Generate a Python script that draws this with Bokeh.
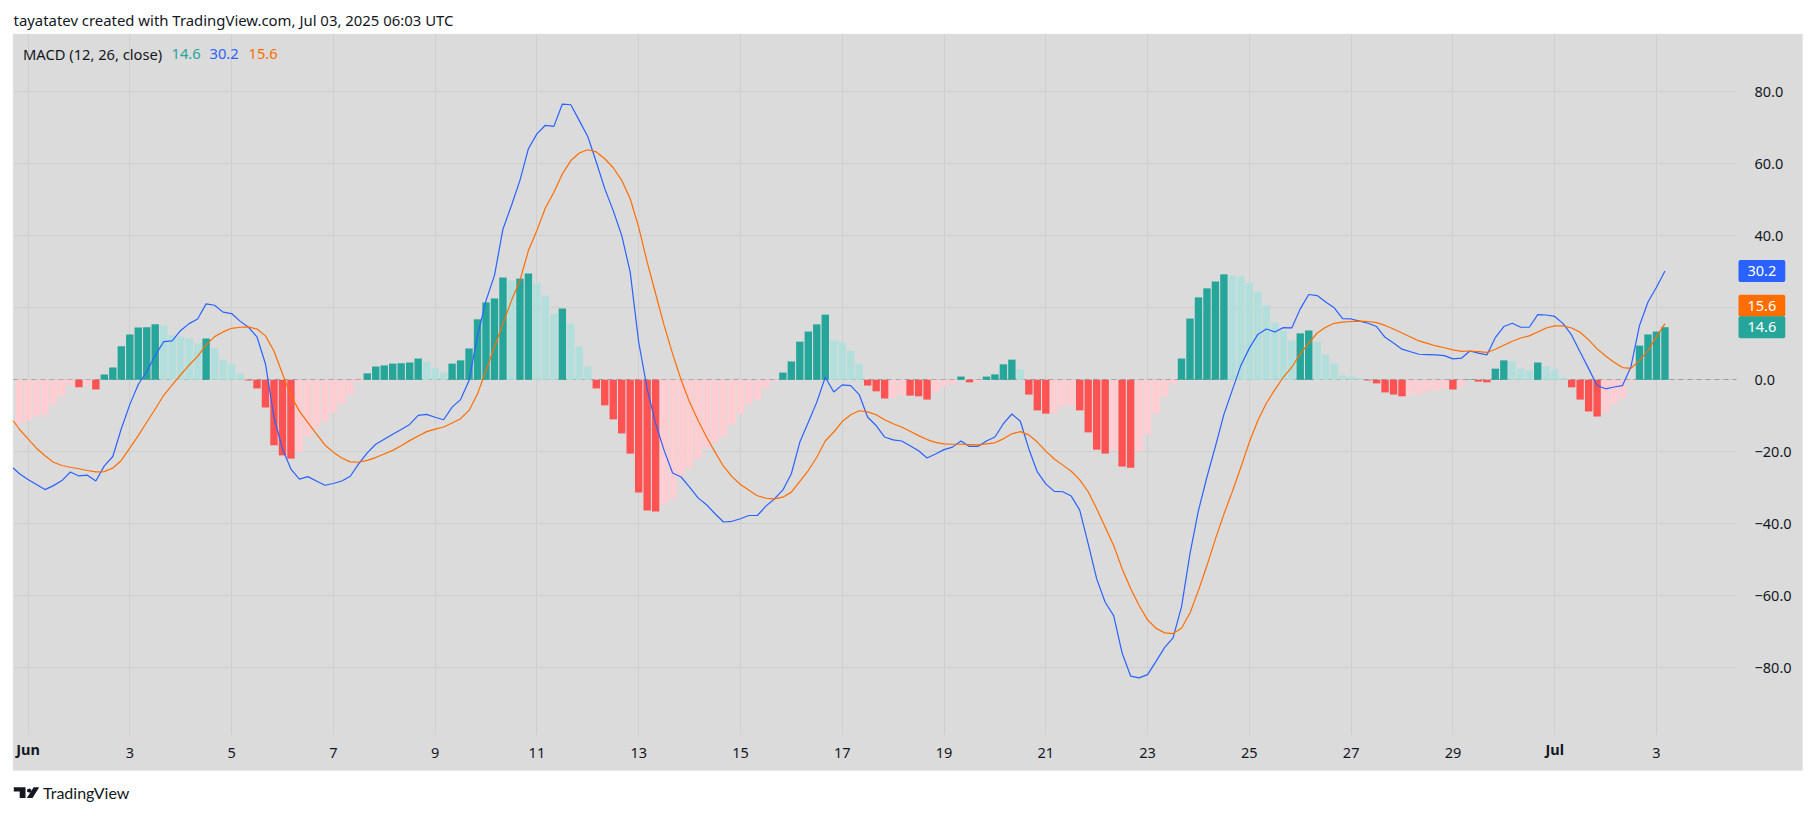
from bokeh.plotting import figure
from bokeh.models import (Label, Range1d, FixedTicker, LinearAxis, Grid, PolyAnnotation, BoxAnnotation, ColumnDataSource)
from bokeh.embed import file_html
from bokeh.resources import INLINE

# bar index: 4-hour bars counted from Jun 1 00:00; lines start one bar before the histogram
first_line_bar = -2
first_hist_bar = -1

macd_line = [
 -24.5,-26.1,-27.7,-29.1,-30.5,-29.4,-28,-25.6,-26.7,-26.5,
 -28.1,-23.9,-21.3,-13.6,-6.9,-1.3,2.3,6.8,10.6,10.8,
 13.7,15.6,16.9,21.1,20.7,18.8,18.4,16.3,14.6,11.9,
 4.4,-10.4,-19.2,-24.8,-27.6,-26.9,-28.1,-29.3,-28.8,-28.1,
 -26.8,-23.3,-20.3,-17.9,-16.5,-15.1,-13.8,-12.4,-9.9,-9.6,
 -10.4,-11.1,-7.6,-5.5,-0.2,12.3,22,29,41.9,48.4,
 55.4,64.2,68.3,70.7,70.4,76.6,76.4,72,67.6,60.5,
 53.1,47,40.1,29.9,10.5,-2.5,-12.2,-19.6,-25.9,-27,
 -29.8,-32.8,-34.7,-37.2,-39.5,-39.3,-38.6,-37.7,-37.7,-35.1,
 -33.1,-30.6,-26.1,-17.3,-11.8,-6.2,0.7,-3.4,-1.4,-1.6,
 -4.1,-10.4,-12.7,-15.9,-16.7,-17,-18.3,-19.7,-21.7,-20.6,
 -19.4,-18.7,-17,-18.5,-18.5,-17,-15.9,-12.2,-9.5,-11.5,
 -19.2,-25.6,-28.9,-31,-31.1,-32.3,-36.2,-45.6,-55.3,-61.8,
 -65.5,-75.9,-82.3,-82.8,-81.9,-78.2,-74.4,-71.7,-63.1,-48.3,
 -36.3,-27,-18.5,-9.6,-2.8,4,8.8,12.6,14.1,13.3,
 14.5,14.4,19.7,23.7,23.4,21.6,20,17,16.9,16.3,
 15.7,14.8,11.8,10.2,8.5,7.8,7.1,7,6.9,6.7,
 5.8,6,8,7.4,6.9,11.7,14.8,15.7,14.6,14.6,
 18.1,18,17.6,15.6,12.4,7.7,3.1,-1.6,-2.5,-2,
 -1.6,3.7,15.1,21.6,25.7,30.2]

signal_line = [
 -11.3,-13.8,-16.4,-19,-21.1,-22.9,-23.8,-24.3,-24.7,-25.2,
 -25.6,-25.5,-24.5,-22.4,-19,-15.5,-11.8,-8.1,-4.3,-1.4,
 1.4,4.1,6.5,9.7,12,13.3,14.3,14.6,14.7,14.1,
 12.2,8,1.7,-4.4,-8.7,-11.9,-15,-18.1,-20.1,-21.7,
 -22.8,-22.9,-22.4,-21.6,-20.6,-19.6,-18.3,-16.9,-15.6,-14.4,
 -13.7,-13.1,-12,-10.8,-8.5,-3.9,2.6,9.1,15.6,22,
 27.6,35.9,41.5,47.7,52.1,57.2,60.9,63,63.9,63.3,
 61.4,58.9,55.4,50.3,42.4,32.7,23.9,15.1,7.2,0,
 -6.2,-11.3,-15.9,-20.1,-24,-26.9,-29.1,-30.7,-32.2,-32.9,
 -33.1,-32.6,-31.2,-28.2,-25.2,-21.5,-17,-14.5,-11.6,-9.7,
 -8.6,-8.9,-9.7,-11.1,-12.2,-13.1,-14.3,-15.5,-16.6,-17.4,
 -17.8,-17.9,-17.9,-18,-18.1,-17.8,-17.5,-16.4,-15,-14.4,
 -15.3,-17.3,-19.8,-22,-23.7,-25.4,-27.8,-31.1,-35.8,-40.9,
 -46,-52.5,-58,-62.7,-66.7,-69,-70.3,-70.5,-69,-64.8,
 -58.5,-51.6,-44.2,-37.3,-31,-24.3,-17.3,-11.3,-6.5,-2.8,
 0.7,3.5,7.2,10.2,13,14.6,15.7,16,16.2,16.3,
 16.2,15.9,15.1,14.1,13,11.9,10.8,10.1,9.4,8.9,
 8.3,7.9,8,7.8,7.6,8.5,9.6,10.7,11.6,12.2,
 13.3,14.4,15,15,14.4,13.2,11.1,8.6,6.6,4.9,
 3.4,3.2,5.4,8.1,12,15.6]

hist_values = [
 -12.2,-11.3,-10.2,-9.6,-6.8,-4.4,-1.6,-2.1,-1.6,-2.7,
 1.5,3.4,9.3,12.6,14.5,14.6,15.4,15.1,12.3,12,
 11.5,10.1,11.5,8.7,5.6,4.3,1.8,-0.2,-2.4,-7.7,
 -18.2,-21,-21.9,-20,-15.6,-13.2,-11.6,-9.1,-6.7,-4.1,
 -0.5,1.8,3.7,4,4.5,4.6,4.8,5.9,5.1,3.4,
 2,4.5,5.4,8.7,16.8,21.5,22.6,28.4,27.6,28.1,
 29.5,26.8,23.4,18.4,19.8,15.6,9.3,3.7,-2.4,-7.1,
 -11,-14.9,-20.5,-31.3,-36.3,-36.6,-34.6,-33.2,-27,-24.4,
 -21.9,-18.8,-17.4,-15.7,-12.4,-9.4,-6.9,-5.5,-2.3,-0.4,
 2,5.1,10.6,13.4,15.4,18.1,10.9,10.4,8.1,4.5,
 -1.6,-3.2,-5.2,-5,-4.1,-4.4,-4.6,-5.5,-3.5,-1.9,
 -1.1,0.9,-0.7,-0.6,0.9,1.5,4.3,5.6,2.9,-4.1,
 -8.5,-9.4,-9.3,-7.4,-7.2,-8.5,-14.6,-19.4,-20.5,-19.6,
 -24.1,-24.4,-19.9,-15.2,-9.4,-4.6,-1.3,5.9,17,22.9,
 25.4,27.3,29.3,29,28.7,26.8,24.5,20.6,15.9,13.7,
 10.9,12.9,13.7,10.6,7,4.5,1.2,0.9,0.4,-0.2,
 -1,-3.5,-4.1,-4.6,-4.1,-4,-3.2,-3,-2.4,-2.7,
 -1.9,0.1,-0.5,-0.7,3.1,5.4,5.1,3.1,2.6,4.8,
 3.7,2.9,0.6,-2.1,-5.5,-8.8,-10.2,-9.1,-6.9,-5.2,
 -0.4,9.5,12.6,13.4,14.6]

y_grid_ticks = [80, 60, 40, 20, 0, -20, -40, -60, -80]
y_ticks = [80, 60, 40, 0, -20, -40, -60, -80]   # the 20.0 label sits behind the price tags
y_tick_labels = ["80.0", "60.0", "40.0", "0.0", "\u221220.0", "\u221240.0", "\u221260.0", "\u221280.0"]
day_ticks = list(range(2, 30, 2)) + [32]
day_tick_labels = ["3","5","7","9","11","13","15","17","19","21","23","25","27","29","3"]
month_ticks = [0, 30]
month_tick_labels = ["Jun", "Jul"]

header_text = "tayatatev created with TradingView.com, Jul 03, 2025 06:03 UTC"
legend_name = "MACD (12, 26, close)"
macd_text, signal_text, hist_text = "30.2", "15.6", "14.6"

BG = "#dbdbdb"; GRID = "#cfcfcf"; INK = "#131722"
BLUE = "#2962ff"; ORANGE = "#ff6d00"; TEAL = "#26a69a"; LTEAL = "#b2dfdb"; RED = "#ff5252"; PINK = "#ffcdd2"
FONT = "Noto Sans"
PX_PER_DAY = 50.89
ZERO_Y, PX_PER_UNIT = 379.3, 3.6
LEFT, RIGHT, TOP, BOTTOM, DAY0_X = 12.6, 1802.0, 33.5, 770.0, 27.5
PLOT_RIGHT, PLOT_BOTTOM = 1736.0, 735.0
W, H = 1815, 814

def d_of(px): return (px - DAY0_X) / PX_PER_DAY
def v_of(py): return (ZERO_Y - py) / PX_PER_UNIT

line_x = [(first_line_bar + i) / 6 for i in range(len(macd_line))]
line_x[0] = d_of(LEFT)   # the lines run off the panel's left edge
hist_x = [(first_hist_bar + i) / 6 for i in range(len(hist_values))]
colors = []
for i, v in enumerate(hist_values):
    rising = i == 0 or v > hist_values[i - 1]
    colors.append((TEAL if rising else LTEAL) if v >= 0 else (PINK if rising else RED))

p = figure(width=W, height=H, output_backend="svg", toolbar_location=None,
           x_range=Range1d(d_of(0), d_of(W)), y_range=Range1d(v_of(H), v_of(0)),
           y_axis_location="right", min_border=0,
           background_fill_color="white", border_fill_color="white", outline_line_color=None)

p.add_layout(BoxAnnotation(left=d_of(LEFT), right=d_of(RIGHT), top=v_of(TOP), bottom=v_of(BOTTOM),
                           fill_color=BG, fill_alpha=1, line_color="#e4e4e4", line_width=1.5, level="image"))

# axes inside the panel
xa = p.xaxis[0]
xa.fixed_location = v_of(PLOT_BOTTOM)
xa.ticker = FixedTicker(ticks=day_ticks)
xa.major_label_overrides = dict(zip(day_ticks, day_tick_labels))
ya = p.yaxis[0]
ya.fixed_location = d_of(PLOT_RIGHT)
ya.ticker = FixedTicker(ticks=y_ticks)
ya.major_label_overrides = dict(zip(y_ticks, y_tick_labels))
xb = LinearAxis(ticker=FixedTicker(ticks=month_ticks), major_label_overrides=dict(zip(month_ticks, month_tick_labels)),
                fixed_location=v_of(PLOT_BOTTOM))
p.add_layout(xb, "below")
for ax in (xa, ya, xb):
    ax.axis_line_color = None
    ax.major_tick_line_color = None
    ax.minor_tick_line_color = None
    ax.major_label_text_font = FONT
    ax.major_label_text_font_size = "14.5px"
    ax.major_label_text_color = INK
xa.major_label_standoff = 6
xb.major_label_standoff = -3
xb.major_label_text_font_style = "bold"
ya.major_label_standoff = 12

# grids
for g in list(p.grid):
    p.center.remove(g)
vg = Grid(dimension=0, ticker=FixedTicker(ticks=month_ticks + day_ticks), grid_line_color=GRID, grid_line_width=1,
          cross_bounds=(v_of(PLOT_BOTTOM), v_of(TOP)))
hg = Grid(dimension=1, ticker=FixedTicker(ticks=y_grid_ticks), grid_line_color=GRID, grid_line_width=1,
          cross_bounds=(d_of(LEFT), d_of(PLOT_RIGHT)))
zg = Grid(dimension=1, ticker=FixedTicker(ticks=[0]), grid_line_color="#9c9c9c", grid_line_width=1,
          grid_line_dash=[5, 4], cross_bounds=(d_of(LEFT), d_of(PLOT_RIGHT)))
p.add_layout(vg); p.add_layout(hg); p.add_layout(zg)

src = ColumnDataSource(dict(x=hist_x, top=hist_values, color=colors))
p.vbar(x="x", top="top", bottom=0, width=7.4 / PX_PER_DAY, fill_color="color", line_color=None, source=src)
p.line(line_x, macd_line, line_color=BLUE, line_width=1.2)
p.line(line_x, signal_line, line_color=ORANGE, line_width=1.2)

# price tags on the axis
def tag(text, value, fill, off=0):
    p.add_layout(Label(x=1738, x_units="canvas", y=value, text=text, y_offset=off, text_color="white", text_font=FONT,
                       text_font_size="14.5px", text_baseline="middle", background_fill_color=fill,
                       padding=(9, 6), border_radius=2))
tag(macd_text, float(macd_text), BLUE)
tag(signal_text, float(signal_text), ORANGE, 18)
tag(hist_text, float(hist_text), TEAL)

# texts
def text(s, x, y, color=INK, size="14.7px", font=FONT):
    p.add_layout(Label(x=x, y=y, x_units="canvas", y_units="canvas", text=s, text_color=color, text_font=font,
                       text_font_size=size, text_baseline="middle"))
text(header_text, 13, 19, size="14.9px")
text(legend_name, 22.5, 53)
text(hist_text, 171, 53, TEAL)
text(macd_text, 209, 53, BLUE)
text(signal_text, 248, 53, ORANGE)
text("TradingView", 42.5, 791.5, size="16px", font="Lato")

# TradingView mark
logo_parts = [
    ([13.3, 25, 25, 19.2, 19.2, 13.3], [786.8, 786.8, 797.5, 797.5, 791.1, 791.1]),
    ([26.6, 29, 30.8, 30.8, 29, 26.6, 26.6], [789.1, 788.1, 789.1, 791.3, 792.3, 791.3, 789.1]),
    ([33.2, 38.7, 32, 26.3], [786.8, 786.8, 797.5, 797.5]),
]
for xs, ys in logo_parts:
    p.add_layout(PolyAnnotation(xs=xs, ys=ys, xs_units="canvas", ys_units="canvas",
                                fill_color="#131722", fill_alpha=1, line_color=None))

open("out.html", "w").write(file_html(p, INLINE))
